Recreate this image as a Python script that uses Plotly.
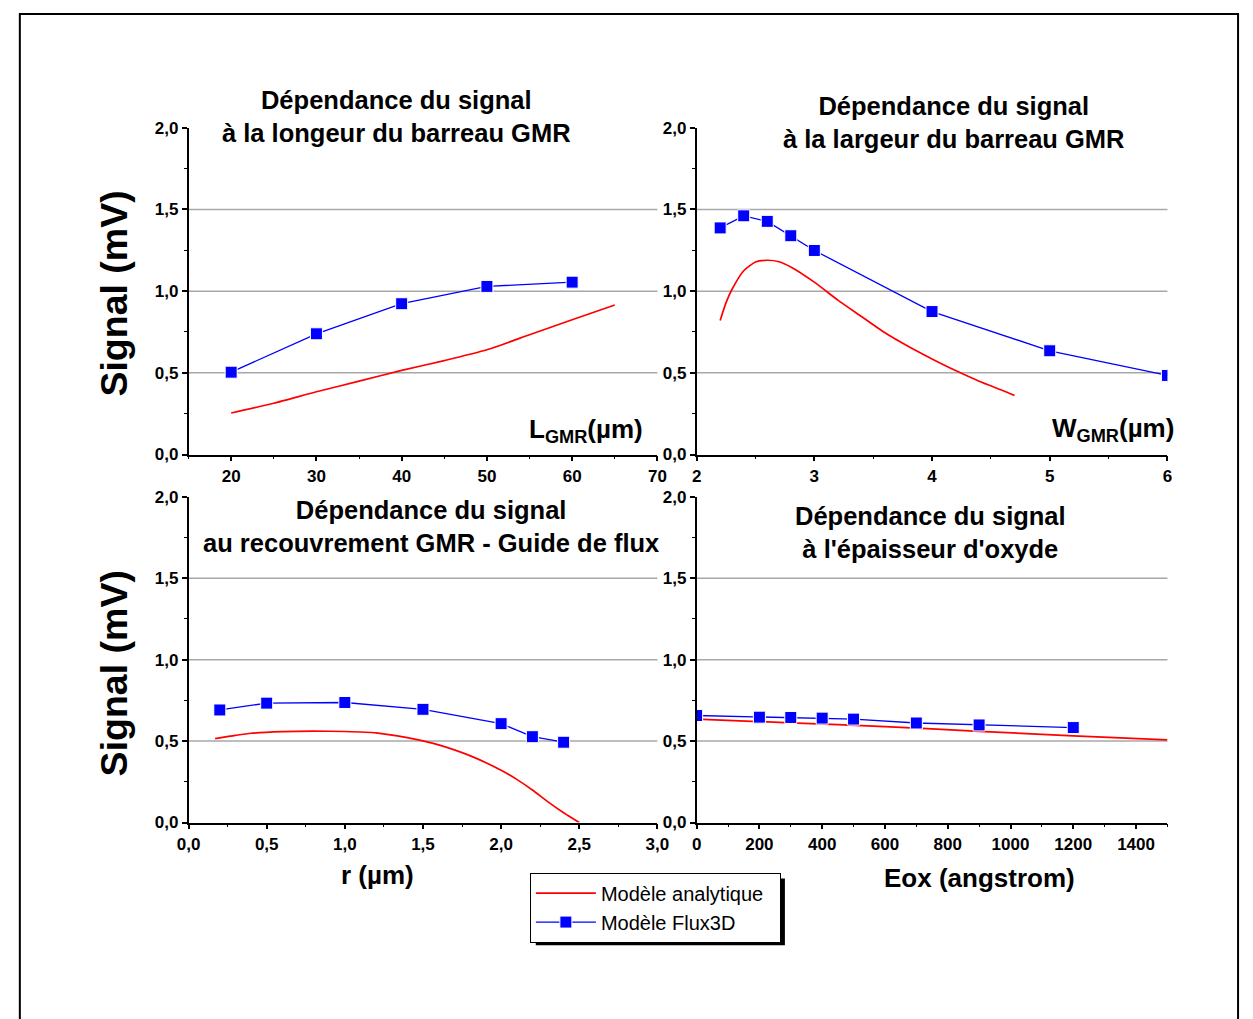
import plotly.graph_objects as go

# ---------------- data ----------------
# Panel 1 : longueur du barreau (L_GMR, µm)
L_flux_x = [20, 30, 40, 50, 60]
L_flux_y = [0.504, 0.739, 0.923, 1.029, 1.055]
L_ana_x = [20, 25, 30, 35, 40, 45, 50, 55, 60, 65]
L_ana_y = [0.254, 0.314, 0.384, 0.449, 0.515, 0.575, 0.641, 0.733, 0.825, 0.915]

# Panel 2 : largeur du barreau (W_GMR, µm)
W_flux_x = [2.2, 2.4, 2.6, 2.8, 3.0, 4, 5, 6]
W_flux_y = [1.387, 1.461, 1.427, 1.339, 1.249, 0.875, 0.635, 0.484]
W_ana_x = [2.2, 2.25, 2.3, 2.4, 2.5, 2.6, 2.7, 2.8, 3.0, 3.2, 3.4, 3.6, 3.8, 4.0, 4.2, 4.4, 4.6, 4.7]
W_ana_y = [0.821, 0.93, 1.01, 1.125, 1.178, 1.189, 1.180, 1.148, 1.055, 0.945, 0.845, 0.745,
           0.661, 0.585, 0.514, 0.449, 0.392, 0.362]

# Panel 3 : recouvrement GMR - guide de flux (r, µm)
R_flux_x = [0.2, 0.5, 1.0, 1.5, 2.0, 2.2, 2.4]
R_flux_y = [0.691, 0.733, 0.737, 0.695, 0.607, 0.527, 0.493]
R_ana_x = [0.17, 0.3, 0.4, 0.6, 0.8, 1.0, 1.2, 1.4, 1.5, 1.6, 1.8, 2.0, 2.1, 2.2, 2.3, 2.4, 2.5]
R_ana_y = [0.515, 0.535, 0.548, 0.558, 0.561, 0.559, 0.551, 0.521, 0.501, 0.477, 0.411, 0.321,
           0.265, 0.200, 0.127, 0.060, 0.0]

# Panel 4 : épaisseur d'oxyde (Eox, angstrom)
E_flux_x = [0, 200, 300, 400, 500, 700, 900, 1200]
E_flux_y = [0.657, 0.647, 0.645, 0.641, 0.635, 0.611, 0.599, 0.583]
E_ana_x = [0, 300, 600, 900, 1200, 1500]
E_ana_y = [0.635, 0.612, 0.589, 0.560, 0.532, 0.507]

# tick labels
y_tickvals = [0, 0.5, 1.0, 1.5, 2.0]
y_ticktext = ["0,0", "0,5", "1,0", "1,5", "2,0"]
L_tickvals = [20, 30, 40, 50, 60, 70]
L_ticktext = ["20", "30", "40", "50", "60", "70"]
W_tickvals = [2, 3, 4, 5, 6]
W_ticktext = ["2", "3", "4", "5", "6"]
R_tickvals = [0, 0.5, 1.0, 1.5, 2.0, 2.5, 3.0]
R_ticktext = ["0,0", "0,5", "1,0", "1,5", "2,0", "2,5", "3,0"]
E_tickvals = [0, 200, 400, 600, 800, 1000, 1200, 1400]
E_ticktext = ["0", "200", "400", "600", "800", "1000", "1200", "1400"]

titles = [
    "Dépendance du signal<br>à la longeur du barreau GMR",
    "Dépendance du signal<br>à la largeur du barreau GMR",
    "Dépendance du signal<br>au recouvrement GMR - Guide de flux",
    "Dépendance du signal<br>à l'épaisseur d'oxyde",
]
series_names = ["Modèle analytique", "Modèle Flux3D"]

# ---------------- layout geometry ----------------
W, H = 1253, 1019
FONT = "Liberation Sans, Arial, sans-serif"


def px_x(p):
    return p / W


def px_y(p):
    return 1 - p / H


xdom_left = [px_x(180), px_x(658)]
xdom_right = [px_x(698), px_x(1178)]
ydom_top = [px_y(454), px_y(121)]
ydom_bot = [px_y(829), px_y(497)]

RED = "#ff0000"
BLUE = "#0000ff"

fig = go.Figure()

panels = [
    ("x", "y", L_ana_x, L_ana_y, L_flux_x, L_flux_y),
    ("x2", "y2", W_ana_x, W_ana_y, W_flux_x, W_flux_y),
    ("x3", "y3", R_ana_x, R_ana_y, R_flux_x, R_flux_y),
    ("x4", "y4", E_ana_x, E_ana_y, E_flux_x, E_flux_y),
]
for i, (xa, ya, ax, ay, fx, fy) in enumerate(panels):
    fig.add_trace(go.Scatter(
        x=ax, y=ay, xaxis=xa, yaxis=ya, mode="lines",
        line=dict(color=RED, width=1.7, shape="spline", smoothing=0.6),
        name=series_names[0] + "\u00a0\u00a0", showlegend=(i == 0), legendrank=1,
    ))
    fig.add_trace(go.Scatter(
        x=fx, y=fy, xaxis=xa, yaxis=ya, mode="lines+markers",
        line=dict(color=BLUE, width=1.3),
        marker=dict(symbol="square", size=12, color=BLUE, line=dict(color="white", width=1)),
        name=series_names[1], showlegend=(i == 0), legendrank=2,
    ))

tickfont = dict(family=FONT, size=17, color="black", weight="bold")


def xaxis(domain, anchor, rng, tv, tt, minor_dtick, tick0):
    return dict(
        domain=domain, anchor=anchor, range=rng,
        tickvals=tv, ticktext=tt, tickfont=tickfont,
        showline=True, linecolor="black", linewidth=1.5,
        ticks="outside", ticklen=5, tickwidth=1.5, tickcolor="black",
        showgrid=False, zeroline=False,
        minor=dict(ticks="outside", ticklen=3, tickwidth=1, tickcolor="black",
                   dtick=minor_dtick, tick0=tick0, showgrid=False),
    )


def yaxis(domain, anchor):
    return dict(
        domain=domain, anchor=anchor, range=[0, 2.0],
        tickvals=y_tickvals, ticktext=y_ticktext, tickfont=tickfont,
        showline=True, linecolor="black", linewidth=1.5,
        ticks="outside", ticklen=5, tickwidth=1.5, tickcolor="black",
        showgrid=False, zeroline=False,
        minor=dict(ticks="outside", ticklen=3, tickwidth=1, tickcolor="black",
                   dtick=0.25, tick0=0, showgrid=False),
    )


fig.update_layout(
    xaxis=xaxis(xdom_left, "y", [15, 70], L_tickvals, L_ticktext, 5, 15),
    yaxis=yaxis(ydom_top, "x"),
    xaxis2=xaxis(xdom_right, "y2", [2, 6], W_tickvals, W_ticktext, 0.5, 2),
    yaxis2=yaxis(ydom_top, "x2"),
    xaxis3=xaxis(xdom_left, "y3", [0, 3], R_tickvals, R_ticktext, 0.25, 0),
    yaxis3=yaxis(ydom_bot, "x3"),
    xaxis4=xaxis(xdom_right, "y4", [0, 1500], E_tickvals, E_ticktext, 100, 0),
    yaxis4=yaxis(ydom_bot, "x4"),
)

# horizontal grid lines (0.5, 1.0, 1.5)
shapes = []
for k in range(1, 5):
    suffix = "" if k == 1 else str(k)
    for gv in y_tickvals[1:4]:
        shapes.append(dict(type="line", xref=f"x{suffix} domain", yref=f"y{suffix}",
                           x0=0, x1=1, y0=gv, y1=gv, layer="below",
                           line=dict(color="#a8a8a8", width=1.5)))

# outer frame
shapes.append(dict(type="rect", xref="paper", yref="paper",
                   x0=px_x(8), x1=px_x(1250), y0=px_y(5), y1=px_y(1040),
                   line=dict(color="black", width=2), fillcolor="rgba(0,0,0,0)"))
# legend shadow
shapes.append(dict(type="rect", xref="paper", yref="paper",
                   x0=px_x(534), x1=px_x(788), y0=px_y(886), y1=px_y(954),
                   line=dict(width=0), fillcolor="black", layer="below"))

annotations = []
title_pos = [(392, 110), (960, 116), (427, 527), (936, 533)]
for t, (cx, cy) in zip(titles, title_pos):
    annotations.append(dict(text=t, xref="paper", yref="paper", x=px_x(cx), y=px_y(cy),
                            xanchor="center", yanchor="middle", showarrow=False,
                            font=dict(family=FONT, size=25.5, color="black", weight="bold")))

for cy in (290, 677):
    annotations.append(dict(text="Signal (mV)", xref="paper", yref="paper",
                            x=px_x(104), y=px_y(cy), xanchor="center", yanchor="middle",
                            textangle=-90, showarrow=False,
                            font=dict(family=FONT, size=37.5, color="black", weight="bold")))

lab_font = dict(family=FONT, size=26, color="black", weight="bold")
annotations += [
    dict(text="L<sub>GMR</sub>(µm)", xref="paper", yref="paper", x=px_x(645), y=px_y(430),
         xanchor="right", yanchor="middle", showarrow=False, font=lab_font),
    dict(text="W<sub>GMR</sub>(µm)", xref="paper", yref="paper", x=px_x(1187), y=px_y(428),
         xanchor="right", yanchor="middle", showarrow=False, font=lab_font),
    dict(text="r (µm)", xref="paper", yref="paper", x=px_x(373), y=px_y(882),
         xanchor="center", yanchor="middle", showarrow=False, font=lab_font),
    dict(text="Eox (angstrom)", xref="paper", yref="paper", x=px_x(986), y=px_y(886),
         xanchor="center", yanchor="middle", showarrow=False, font=lab_font),
]

fig.update_layout(
    width=W, height=H,
    margin=dict(l=0, r=0, t=0, b=0),
    paper_bgcolor="white", plot_bgcolor="white",
    font=dict(family=FONT, color="black"),
    shapes=shapes, annotations=annotations,
    legend=dict(x=px_x(528), y=px_y(880), xanchor="left", yanchor="top",
                bgcolor="white", bordercolor="black", borderwidth=1,
                font=dict(family=FONT, size=20, color="black"),
                tracegroupgap=0, itemwidth=60),
)

fig.write_html("out.html", config={"displayModeBar": False},
               post_script="document.body.style.margin='0';document.body.style.overflow='hidden';")
